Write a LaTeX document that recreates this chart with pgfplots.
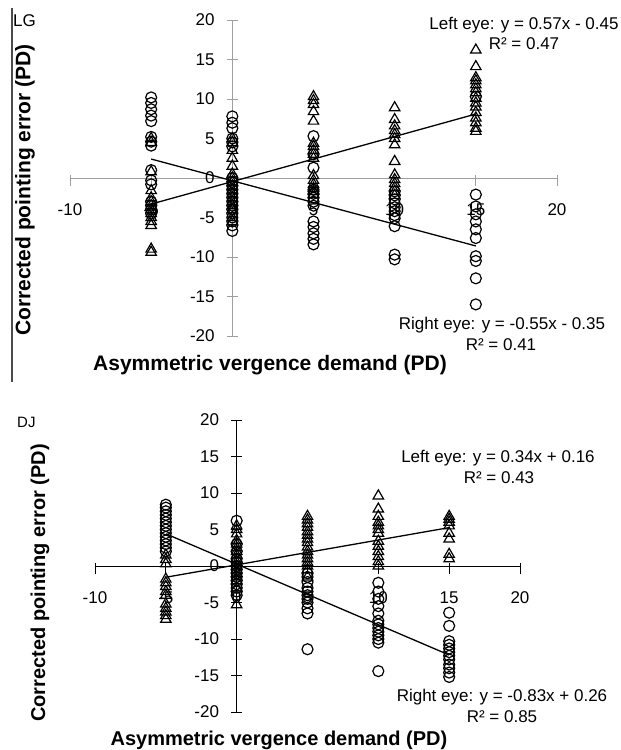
\documentclass[border=0pt]{standalone}
\usepackage{fontspec}
\setmainfont{Liberation Sans}
\usepackage{pgfplots}
\pgfplotsset{compat=1.18}
\pgfplotsset{
  myax/.style={
    scale only axis, axis lines=middle, axis line style={-},
    xmin=-10,xmax=20,ymin=-20,ymax=20,
    xtick={-10,-5,0,5,10,15,20}, xticklabels={-10,-5,0,5,10,15,20},
    ytick={-20,-15,-10,-5,0,5,10,15,20}, yticklabels={-20,-15,-10,-5,0,5,10,15,20},
    hide obscured x ticks=false, hide obscured y ticks=false,
    tick label style={font=\fontsize{17}{20}\selectfont, inner sep=0pt, text=black},
    xticklabel style={anchor=center, yshift=-26pt},
    yticklabel style={anchor=east, xshift=-12pt},
    tick align=center, major tick length=11pt,
    xtick style={yshift=-2.5pt},
    clip=false,
  },
  rmark/.style={only marks, mark=o, mark size=5.5pt, mark options={line width=1.2pt, black}},
  lmark/.style={only marks, mark=triangle, mark size=6pt, mark options={line width=1.2pt, black}},
  fitline/.style={black, line width=1.3pt, no marks},
}
\begin{document}
\begin{tikzpicture}
\path[use as bounding box] (0pt,0pt) rectangle (621pt,-750pt);
% ---------------- LG ----------------
\begin{axis}[myax, at={(70pt,-336pt)}, anchor=south west, width=487pt, height=316pt,
  axis line style={gray!75, line width=1pt}, tick style={gray!75, line width=1pt}]
\addplot[rmark] coordinates {
(-5,10.2)(-5,9.5)(-5,8.7)(-5,7.9)(-5,7.2)(-5,5.2)(-5,4.6)(-5,4.1)(-5,1.0)(-5,-0.3)(-5,-0.8)(-5,-3.0)(-5,-3.5)(-5,-4.0)(-5,-4.5)
(0,7.8)(0,7.0)(0,6.3)(0,5.0)(0,4.5)(0,4.0)(0,0)(0,-0.5)(0,-1)(0,-1.5)(0,-2)(0,-2.5)(0,-3)(0,-3.5)(0,-4)(0,-4.5)(0,-5)(0,-5.5)(0,-6)(0,-6.7)
(5,5.3)(5,3.0)(5,1.3)(5,-1.5)(5,-2.0)(5,-2.5)(5,-3.0)(5,-3.5)(5,-5.5)(5,-6.2)(5,-7.0)(5,-7.7)(5,-8.4)
(10,-1.7)(10,-2.2)(10,-2.7)(10,-3.2)(10,-3.7)(10,-4.2)(10,-4.7)(10,-5.1)(10,-6.1)(10,-9.7)(10,-10.3)
(15,10.3)(15,-2.1)(15,-3.6)(15,-4.6)(15,-5.5)(15,-6.5)(15,-7.6)(15,-9.9)(15,-10.5)(15,-12.7)(15,-16.0)
};
\addplot[lmark] coordinates {
(-5,5.0)(-5,4.5)(-5,0.8)(-5,-1.6)(-5,-2.5)(-5,-3.0)(-5,-3.5)(-5,-4.0)(-5,-4.5)(-5,-5.0)(-5,-5.5)(-5,-6.0)(-5,-9.0)(-5,-9.4)
(0,5.0)(0,4.5)(0,3.5)(0,2.5)(0,1.5)(0,0.5)(0,0)(0,-0.5)(0,-1)(0,-1.5)(0,-2)(0,-2.5)(0,-3)(0,-3.5)(0,-4)(0,-5)(0,-5.5)
(5,10.3)(5,9.8)(5,9.3)(5,8.4)(5,7.2)(5,4.4)(5,4.0)(5,3.5)(5,3.0)(5,2.5)(5,0.3)(5,-0.3)(5,-0.8)(5,-1.3)(5,-1.7)(5,-2.1)
(10,8.9)(10,7.4)(10,6.6)(10,6.0)(10,5.5)(10,5.0)(10,4.2)(10,2.1)(10,0.4)(10,-0.2)(10,-0.7)(10,-1.2)(10,-1.7)(10,-2.2)
(15,16.2)(15,14.1)(15,12.7)(15,12.3)(15,11.8)(15,11.3)(15,10.8)(15,10.1)(15,9.5)(15,9.0)(15,8.3)(15,7.6)(15,7.0)(15,6.3)(15,5.9)
};
\addplot[fitline] coordinates {(-5,-3.3)(15,8.1)};
\addplot[fitline] coordinates {(-5,2.4)(15,-8.6)};
\end{axis}
% ---------------- DJ ----------------
\begin{axis}[myax, at={(95pt,-712pt)}, anchor=south west, width=425pt, height=292pt,
  axis line style={black, line width=1pt}, tick style={black, line width=1pt}]
\addplot[rmark] coordinates {
(-5,8.4)(-5,8.0)(-5,7.5)(-5,7.0)(-5,6.5)(-5,6.0)(-5,5.5)(-5,5.0)(-5,4.5)(-5,4.0)(-5,3.5)(-5,3.0)(-5,2.5)(-5,2.0)
(0,6.2)(0,3.0)(0,2.0)(0,1.0)(0,0.5)(0,0)(0,-0.5)(0,-1.0)(0,-1.5)(0,-2.0)(0,-2.5)(0,-3.0)(0,-3.5)(0,-4.0)
(5,-1.0)(5,-1.5)(5,-2.2)(5,-3.0)(5,-3.5)(5,-4.0)(5,-4.5)(5,-5.0)(5,-5.8)(5,-6.5)(5,-11.4)
(10,-2.3)(10,-3.5)(10,-4.5)(10,-5.5)(10,-6.5)(10,-7.5)(10,-8.0)(10,-8.5)(10,-9.0)(10,-9.5)(10,-10.0)(10,-10.5)(10,-14.4)
(15,-6.4)(15,-8.2)(15,-10.3)(15,-10.8)(15,-11.3)(15,-11.8)(15,-12.3)(15,-12.8)(15,-13.5)(15,-14.0)(15,-14.6)(15,-15.2)
};
\addplot[lmark] coordinates {
(-5,1.5)(-5,0.9)(-5,0.3)(-5,-1.8)(-5,-2.3)(-5,-2.8)(-5,-3.5)(-5,-4.0)(-5,-5.2)(-5,-5.8)(-5,-6.3)(-5,-6.8)(-5,-7.3)
(0,5.5)(0,5.0)(0,4.4)(0,3.5)(0,3.0)(0,2.5)(0,2.0)(0,1.5)(0,1.0)(0,0.5)(0,0)(0,-0.5)(0,-1)(0,-1.5)(0,-2)(0,-3)(0,-5.3)
(5,6.8)(5,6.3)(5,5.8)(5,5.3)(5,4.7)(5,4.2)(5,3.7)(5,3.2)(5,2.6)(5,2.0)(5,1.5)(5,1.0)(5,0.5)(5,0)(5,-0.5)(5,-1.5)
(10,9.6)(10,7.8)(10,6.8)(10,6.0)(10,5.5)(10,5.0)(10,4.5)(10,3.4)(10,2.7)(10,2.0)(10,1.3)(10,0.6)(10,0)
(15,6.8)(15,6.4)(15,6.0)(15,5.5)(15,4.5)(15,3.7)(15,1.6)(15,1.0)
};
\addplot[fitline] coordinates {(-5,-1.54)(15,5.26)};
\addplot[fitline] coordinates {(-5,4.41)(15,-12.19)};
\end{axis}
% ---------------- texts ----------------
\draw[gray!60!black, line width=1.2pt] (12pt,-8pt) -- (12pt,-382pt);
\node[anchor=west, inner sep=0pt, font=\fontsize{17}{20}\selectfont] at (13pt,-21pt) {LG};
\node[anchor=west, inner sep=0pt, font=\fontsize{15}{18}\selectfont] at (17pt,-422pt) {DJ};
\begin{scope}[every node/.style={inner sep=0pt, font=\fontsize{17}{20}\selectfont}]
\node at (524pt,-25pt) {Left eye: y = 0.57x - 0.45};
\node at (524pt,-44pt) {R² = 0.47};
\node at (502pt,-325pt) {Right eye: y = -0.55x - 0.35};
\node at (501pt,-345pt) {R² = 0.41};
\node at (498pt,-458pt) {Left eye: y = 0.34x + 0.16};
\node at (499pt,-478pt) {R² = 0.43};
\node at (502pt,-697pt) {Right eye: y = -0.83x + 0.26};
\node at (502pt,-717pt) {R² = 0.85};
\end{scope}
\node[rotate=90, inner sep=0pt, font=\bfseries\fontsize{21}{24}\selectfont] at (25pt,-190pt) {Corrected pointing error (PD)};
\node[inner sep=0pt, font=\bfseries\fontsize{21}{24}\selectfont] at (270pt,-365pt) {Asymmetric vergence demand (PD)};
\node[rotate=90, inner sep=0pt, font=\bfseries\fontsize{20}{23}\selectfont] at (40pt,-583pt) {Corrected pointing error (PD)};
\node[inner sep=0pt, font=\bfseries\fontsize{20}{23}\selectfont] at (279pt,-740pt) {Asymmetric vergence demand (PD)};
\end{tikzpicture}
\end{document}
